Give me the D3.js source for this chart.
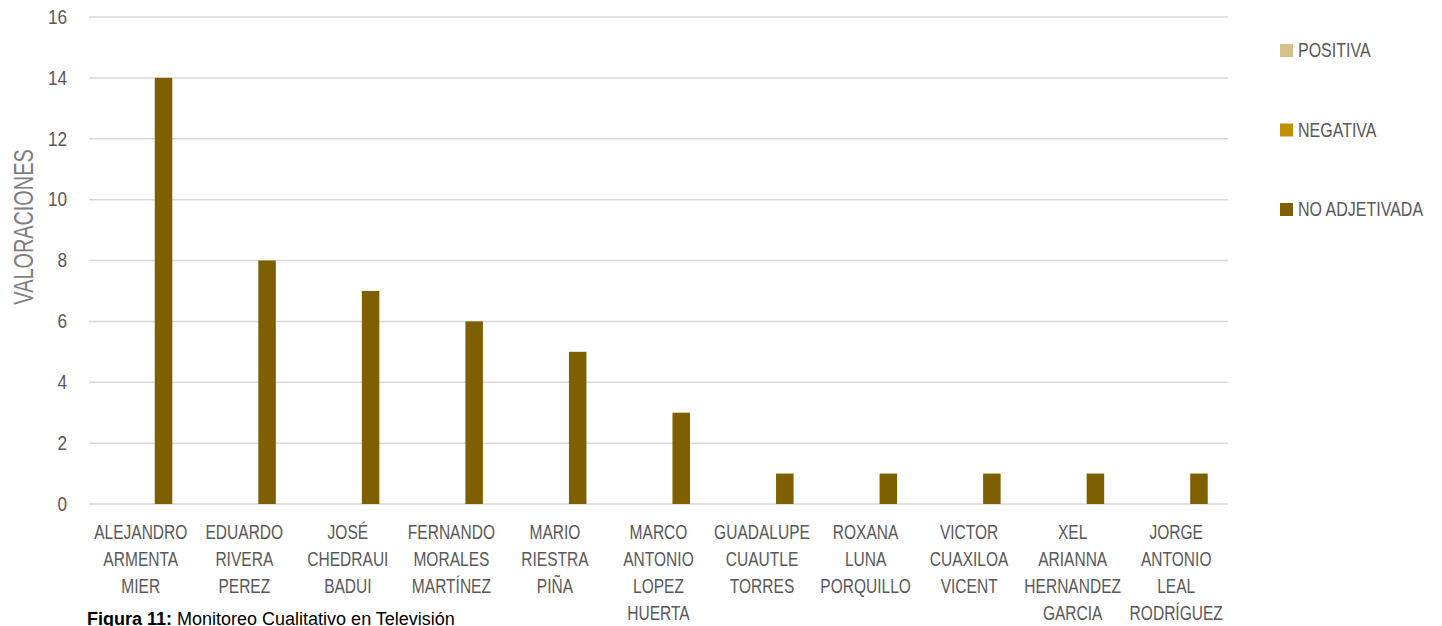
<!DOCTYPE html>
<html lang="es">
	<head>
		<meta charset="utf-8">
		<title>Figura 11</title>
		<script type="text/javascript" src="https://cdn.jsdelivr.net/npm/d3@7"></script>
		<style type="text/css">
			body { margin: 0; background: white; }
			.axis text { font-family: "Liberation Sans", Arial, sans-serif; fill: #595959; }
			.axis path, .axis line { display: none; }
		</style>
	</head>
	<body>
		<script type="text/javascript">

			//Width and height
			var w = 1442;
			var h = 626;

			//Data
			var candidatos = ["ALEJANDRO ARMENTA MIER", "EDUARDO RIVERA PEREZ", "JOSÉ CHEDRAUI BADUI",
				"FERNANDO MORALES MARTÍNEZ", "MARIO RIESTRA PIÑA", "MARCO ANTONIO LOPEZ HUERTA",
				"GUADALUPE CUAUTLE TORRES", "ROXANA LUNA PORQUILLO", "VICTOR CUAXILOA VICENT",
				"XEL ARIANNA HERNANDEZ GARCIA", "JORGE ANTONIO LEAL RODRÍGUEZ"];
			var series = ["POSITIVA", "NEGATIVA", "NO ADJETIVADA"];
			var colores = ["#d5bf8a", "#bf9000", "#7f6000"];
			var positiva = [0, 0, 0, 0, 0, 0, 0, 0, 0, 0, 0];
			var negativa = [0, 0, 0, 0, 0, 0, 0, 0, 0, 0, 0];
			var noAdjetivada = [14, 8, 7, 6, 5, 3, 1, 1, 1, 1, 1];
			var yTicks = [0, 2, 4, 6, 8, 10, 12, 14, 16];

			var valores = [positiva, negativa, noAdjetivada];

			var svg = d3.select("body")
						.append("svg")
						.attr("width", w)
						.attr("height", h);

			//Scales
			var xScale = d3.scaleBand()
						.domain(candidatos)
						.range([89, 1228])
						.padding(0);

			var groupW = 63;
			var x1 = d3.scaleBand()
						.domain(series)
						.range([0, groupW])
						.paddingInner(0.23);

			var yScale = d3.scaleLinear()
						.domain([0, 16])
						.range([504, 17]);

			//Gridlines
			svg.append("g")
				.selectAll("line")
				.data(yTicks)
				.enter()
				.append("line")
				.attr("x1", 89)
				.attr("x2", 1228)
				.attr("y1", function(d) { return yScale(d); })
				.attr("y2", function(d) { return yScale(d); })
				.attr("stroke", "#d9d9d9")
				.attr("stroke-width", 1.5);

			//Bars
			series.forEach(function(s, si) {
				svg.append("g")
					.selectAll("rect")
					.data(valores[si])
					.enter()
					.append("rect")
					.attr("x", function(d, i) {
						return xScale(candidatos[i]) + (xScale.bandwidth() - groupW) / 2 + x1(s);
					})
					.attr("width", x1.bandwidth())
					.attr("y", function(d) { return yScale(d); })
					.attr("height", function(d) { return yScale(0) - yScale(d); })
					.attr("fill", colores[si]);
			});

			//Y axis
			var yAxis = d3.axisLeft(yScale)
						.tickValues(yTicks)
						.tickSize(0)
						.tickPadding(0);

			svg.append("g")
				.attr("class", "axis")
				.attr("transform", "translate(67,0)")
				.call(yAxis)
				.selectAll("text")
				.attr("font-size", 19.5)
				.attr("transform", "scale(0.88,1)");

			//X axis
			var xAxis = d3.axisBottom(xScale)
						.tickSize(0);

			var xg = svg.append("g")
				.attr("class", "axis")
				.attr("transform", "translate(0,520)")
				.call(xAxis);

			xg.selectAll(".tick text")
				.attr("font-size", 21)
				.attr("transform", "scale(0.74,1)")
				.attr("y", 0)
				.attr("dy", null)
				.each(function(d) {
					var t = d3.select(this);
					var words = d.split(" ");
					t.text(null);
					words.forEach(function(wd, i) {
						t.append("tspan")
							.attr("x", 0)
							.attr("y", 19 + i * 27)
							.text(wd);
					});
				});

			//Y axis title
			svg.append("text")
				.text("VALORACIONES")
				.attr("transform", "translate(33,227) rotate(-90) scale(0.71,1)")
				.attr("text-anchor", "middle")
				.attr("font-family", "Liberation Sans, Arial, sans-serif")
				.attr("font-size", 28)
				.attr("fill", "#7f7f7f");

			//Legend
			var legend = svg.append("g")
				.selectAll("g")
				.data(series)
				.enter()
				.append("g")
				.attr("transform", function(d, i) { return "translate(1280," + (44 + i * 79.5) + ")"; });

			legend.append("rect")
				.attr("width", 13)
				.attr("height", 13)
				.attr("fill", function(d, i) { return colores[i]; });

			legend.append("text")
				.text(function(d) { return d; })
				.attr("transform", "translate(18,13) scale(0.8,1)")
				.attr("font-family", "Liberation Sans, Arial, sans-serif")
				.attr("font-size", 20)
				.attr("fill", "#595959");

			//Caption
			var cap = svg.append("text")
				.attr("x", 87)
				.attr("y", 625)
				.attr("font-family", "Liberation Sans, Arial, sans-serif")
				.attr("font-size", 18)
				.attr("fill", "#000");

			cap.append("tspan")
				.attr("font-weight", "bold")
				.text("Figura 11:");

			cap.append("tspan")
				.text(" Monitoreo Cualitativo en Televisión");

		</script>
	</body>
</html>
